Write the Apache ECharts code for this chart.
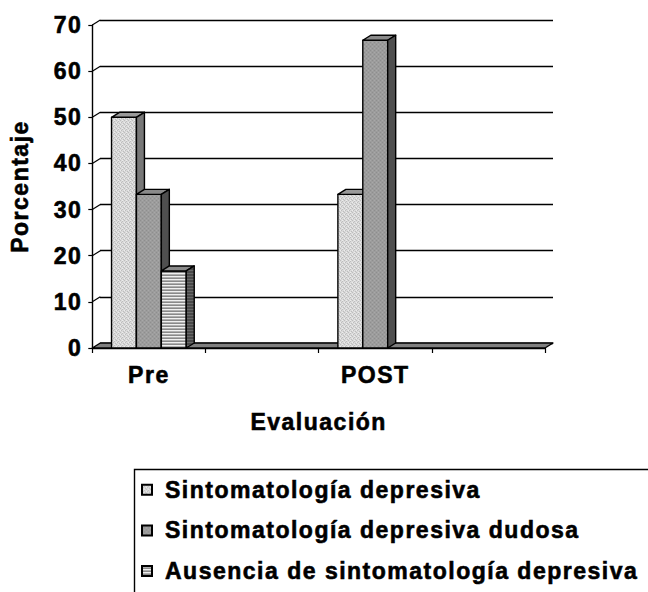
<!DOCTYPE html>
<html>
<head>
<meta charset="utf-8">
<script src="https://cdn.jsdelivr.net/npm/echarts@6/dist/echarts.min.js"></script>
<style>
  html, body { margin: 0; padding: 0; background: #fff; }
  #main { width: 648px; height: 592px; }
  /* Excel-style wide tracking on every chart label */
  #main text { letter-spacing: 1.5px; }
</style>
</head>
<body>
<div id="main"></div>
<script>
// Evaluation moments (blank columns leave room between groups)
const categories = ['Pre', '', 'POST', ''];
const seriesNames = [
  'Sintomatología depresiva',
  'Sintomatología depresiva dudosa',
  'Ausencia de sintomatología depresiva'
];
// Percentages per group
const depresiva = [50, null, 33.3, null];
const dudosa = [33.3, null, 66.7, null];
const ausencia = [16.7, null, 0, null];
const yTicks = [0, 10, 20, 30, 40, 50, 60, 70];

const FONT = 'Liberation Sans, Arial, sans-serif';
const DX = 8, DY = -5; // depth offset of the pseudo-3D box

function makePattern(size, painter) {
  const c = document.createElement('canvas');
  c.width = size; c.height = size;
  const ctx = c.getContext('2d');
  painter(ctx);
  return { image: c, repeat: 'repeat', imageWidth: size, imageHeight: size };
}

// fine light-grey dither
const dotted = makePattern(4, ctx => {
  ctx.fillStyle = '#dadada'; ctx.fillRect(0, 0, 4, 4);
  ctx.fillStyle = '#bdbdbd';
  ctx.fillRect(0, 0, 1, 1); ctx.fillRect(2, 1, 1, 1);
  ctx.fillRect(1, 2, 1, 1); ctx.fillRect(3, 3, 1, 1);
  ctx.fillStyle = '#ececec';
  ctx.fillRect(2, 0, 1, 1); ctx.fillRect(0, 2, 1, 1);
});
// medium grey texture
const medium = makePattern(4, ctx => {
  ctx.fillStyle = '#9c9c9c'; ctx.fillRect(0, 0, 4, 4);
  ctx.fillStyle = '#8e8e8e';
  ctx.fillRect(0, 0, 1, 1); ctx.fillRect(2, 2, 1, 1);
  ctx.fillStyle = '#a8a8a8';
  ctx.fillRect(2, 0, 1, 1); ctx.fillRect(0, 2, 1, 1);
});
// horizontal stripes
const striped = makePattern(3, ctx => {
  ctx.fillStyle = '#f0f0f0'; ctx.fillRect(0, 0, 3, 1);
  ctx.fillStyle = '#b0b0b0'; ctx.fillRect(0, 1, 3, 1);
  ctx.fillStyle = '#8a8a8a'; ctx.fillRect(0, 2, 3, 1);
});
const stripedSide = makePattern(3, ctx => {
  ctx.fillStyle = '#6a6a6a'; ctx.fillRect(0, 0, 3, 1);
  ctx.fillStyle = '#4a4a4a'; ctx.fillRect(0, 1, 3, 2);
});

const faces = [
  { front: dotted, top: '#9a9a9a', side: '#787878' },
  { front: medium, top: '#8a8a8a', side: '#4f4f4f' },
  { front: striped, top: '#8a8a8a', side: stripedSide }
];

const edge = { stroke: '#000', lineWidth: 1.4, lineJoin: 'round' };

function boxRenderer(idx) {
  const f = faces[idx];
  return function (params, api) {
    const v = api.value(1);
    if (v == null || isNaN(v) || v <= 0) return;
    const c = api.value(0);
    const base = api.coord([c, 0]);
    const top = api.coord([c, v]);
    const band = api.size([1, 0])[0];
    const bw = band * 0.22;
    const x0 = base[0] - 1.5 * bw + idx * bw;
    const x1 = x0 + bw;
    const y0 = base[1], y1 = top[1];
    return {
      type: 'group',
      children: [
        { type: 'polygon', shape: { points: [[x0, y1], [x1, y1], [x1, y0], [x0, y0]] },
          style: Object.assign({ fill: f.front }, edge) },
        { type: 'polygon', shape: { points: [[x0, y1], [x0 + DX, y1 + DY], [x1 + DX, y1 + DY], [x1, y1]] },
          style: Object.assign({ fill: f.top }, edge) },
        { type: 'polygon', shape: { points: [[x1, y1], [x1 + DX, y1 + DY], [x1 + DX, y0 + DY], [x1, y0]] },
          style: Object.assign({ fill: f.side }, edge) }
      ]
    };
  };
}

function floorRenderer(params, api) {
  const cs = params.coordSys;
  const yb = cs.y + cs.height;
  return {
    type: 'polygon',
    shape: { points: [[cs.x, yb], [cs.x + cs.width, yb], [cs.x + cs.width + DX, yb + DY], [cs.x + DX, yb + DY]] },
    style: { fill: '#808080', stroke: '#000', lineWidth: 1.4, lineJoin: 'round' }
  };
}

function wallRenderer(params, api) {
  const cs = params.coordSys;
  const p = api.coord([0, api.value(1)]);
  return {
    type: 'line',
    shape: { x1: cs.x, y1: p[1], x2: cs.x + DX, y2: p[1] + DY },
    style: { stroke: '#000', lineWidth: 1.2 }
  };
}

const chart = echarts.init(document.getElementById('main'), null, { renderer: 'svg' });

const labelStyle = {
  color: '#000', fontFamily: FONT, fontWeight: 'bold', fontSize: 23,
  textBorderColor: '#000', textBorderWidth: 0.6
};

chart.setOption({
  backgroundColor: '#fff',
  animation: false,
  grid: [
    { left: 92, top: 25, width: 453, height: 323 },          // front plane
    { left: 92 + DX, top: 25 + DY, width: 453, height: 323 } // back wall
  ],
  xAxis: [
    {
      gridIndex: 0, type: 'category', data: categories,
      name: 'Evaluación', nameLocation: 'middle', nameGap: 62,
      nameTextStyle: labelStyle,
      axisLine: { show: true, lineStyle: { color: '#000', width: 1.4 } },
      axisTick: { show: true, interval: 0, length: 5, lineStyle: { color: '#000', width: 1.2 } },
      axisLabel: Object.assign({ interval: 0, margin: 15 }, labelStyle)
    },
    { gridIndex: 1, type: 'category', data: categories, show: false }
  ],
  yAxis: [
    {
      gridIndex: 0, type: 'value', min: 0, max: 70, interval: 10,
      name: 'Porcentaje', nameLocation: 'middle', nameRotate: 90, nameGap: 61,
      nameTextStyle: labelStyle,
      axisLine: { show: true, lineStyle: { color: '#000', width: 1.4 } },
      axisTick: { show: true, length: 4, lineStyle: { color: '#000', width: 1.2 } },
      axisLabel: Object.assign({ margin: 10 }, labelStyle),
      splitLine: { show: false }
    },
    {
      gridIndex: 1, type: 'value', min: 0, max: 70, interval: 10,
      axisLine: { show: false }, axisTick: { show: false }, axisLabel: { show: false },
      splitLine: { show: true, lineStyle: { color: '#000', width: 1.3 } }
    }
  ],
  legend: {
    data: seriesNames,
    orient: 'vertical',
    left: 141, top: 478, padding: 0,
    itemWidth: 10, itemHeight: 10, itemGap: 17,
    icon: 'rect',
    textStyle: Object.assign({ padding: [0, 0, 0, 8] }, labelStyle)
  },
  graphic: [
    { type: 'rect', left: 132, top: 467, shape: { width: 530, height: 140 },
      style: { fill: 'none', stroke: '#000', lineWidth: 1.4 }, silent: true, z: -1 }
  ],
  series: [
    { type: 'custom', name: 'floor', renderItem: floorRenderer, data: [[0, 0]], silent: true, z: 1 },
    { type: 'custom', name: 'wall', renderItem: wallRenderer, data: yTicks.slice(1).map(v => [0, v]), silent: true, z: 1 },
    { type: 'custom', name: seriesNames[0], renderItem: boxRenderer(0),
      itemStyle: { color: dotted, borderColor: '#000', borderWidth: 1 },
      data: depresiva.map((v, i) => [i, v]), z: 3 },
    { type: 'custom', name: seriesNames[1], renderItem: boxRenderer(1),
      itemStyle: { color: medium, borderColor: '#000', borderWidth: 1 },
      data: dudosa.map((v, i) => [i, v]), z: 3 },
    { type: 'custom', name: seriesNames[2], renderItem: boxRenderer(2),
      itemStyle: { color: striped, borderColor: '#000', borderWidth: 1 },
      data: ausencia.map((v, i) => [i, v]), z: 3 }
  ]
});
</script>
</body>
</html>
